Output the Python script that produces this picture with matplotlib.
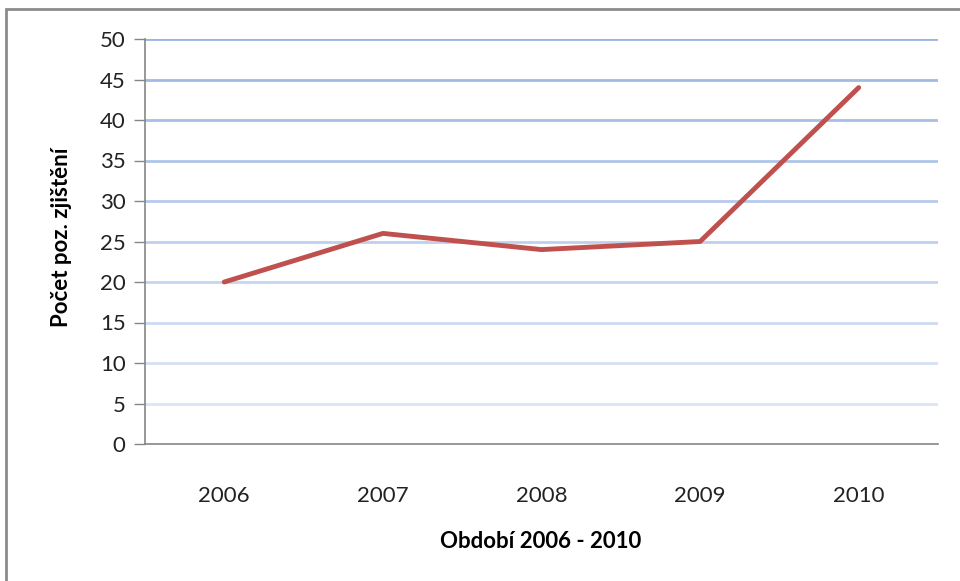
import matplotlib
matplotlib.use("Agg")
import matplotlib.pyplot as plt
from matplotlib.patches import Rectangle
import numpy as np

years = ["2006", "2007", "2008", "2009", "2010"]
counts = [20, 26, 24, 25, 44]
yticks = [0, 5, 10, 15, 20, 25, 30, 35, 40, 45, 50]

plt.rcParams['font.family'] = ['Lato', 'DejaVu Sans']

fig = plt.figure(figsize=(9.6, 5.81), dpi=100)
ax = fig.add_axes([145/960, 1-444/581, (938-145)/960, (444-39)/581])

x = np.arange(len(years))
# gridlines with fading colour toward bottom
top_c = np.array([0x98, 0xB4, 0xE2]) / 255
bot_c = np.array([0xE4, 0xEB, 0xF7]) / 255
for v in yticks[1:]:
    t = v / 50
    c = bot_c + (top_c - bot_c) * t
    ax.axhline(v, color=c, lw=2, zorder=1)

ax.plot(x, counts, color='#C0504D', lw=3.5, solid_capstyle='round', solid_joinstyle='round', zorder=3)

ax.set_xlim(-0.5, len(years) - 0.5)
ax.set_ylim(0, 50)
ax.set_yticks(yticks)
ax.set_yticklabels([str(v) for v in yticks], fontsize=16, color='#222222')
ax.set_xticks(x)
ax.set_xticklabels(years, fontsize=16, color='#222222')
ax.tick_params(axis='y', length=8, width=1, color='#868686', pad=6)
ax.tick_params(axis='x', length=0, pad=30)
for s in ['top', 'right']:
    ax.spines[s].set_visible(False)
for s in ['left', 'bottom']:
    ax.spines[s].set_color('#868686')
    ax.spines[s].set_linewidth(1.2)

fig.text(62/960, 1-237/581, "Počet poz. zjištění", rotation=90, fontsize=16,
         fontweight='bold', ha='center', va='center')
fig.text(541/960, 1-541/581, "Období 2006 - 2010", fontsize=16,
         fontweight='bold', ha='center', va='center')

fig.patches.append(Rectangle((6/960, -0.1), 1.2, (1-9/581) + 0.1, transform=fig.transFigure,
                             fill=False, edgecolor='#8C8C8C', lw=2))

fig.savefig("out.png", dpi=100)
